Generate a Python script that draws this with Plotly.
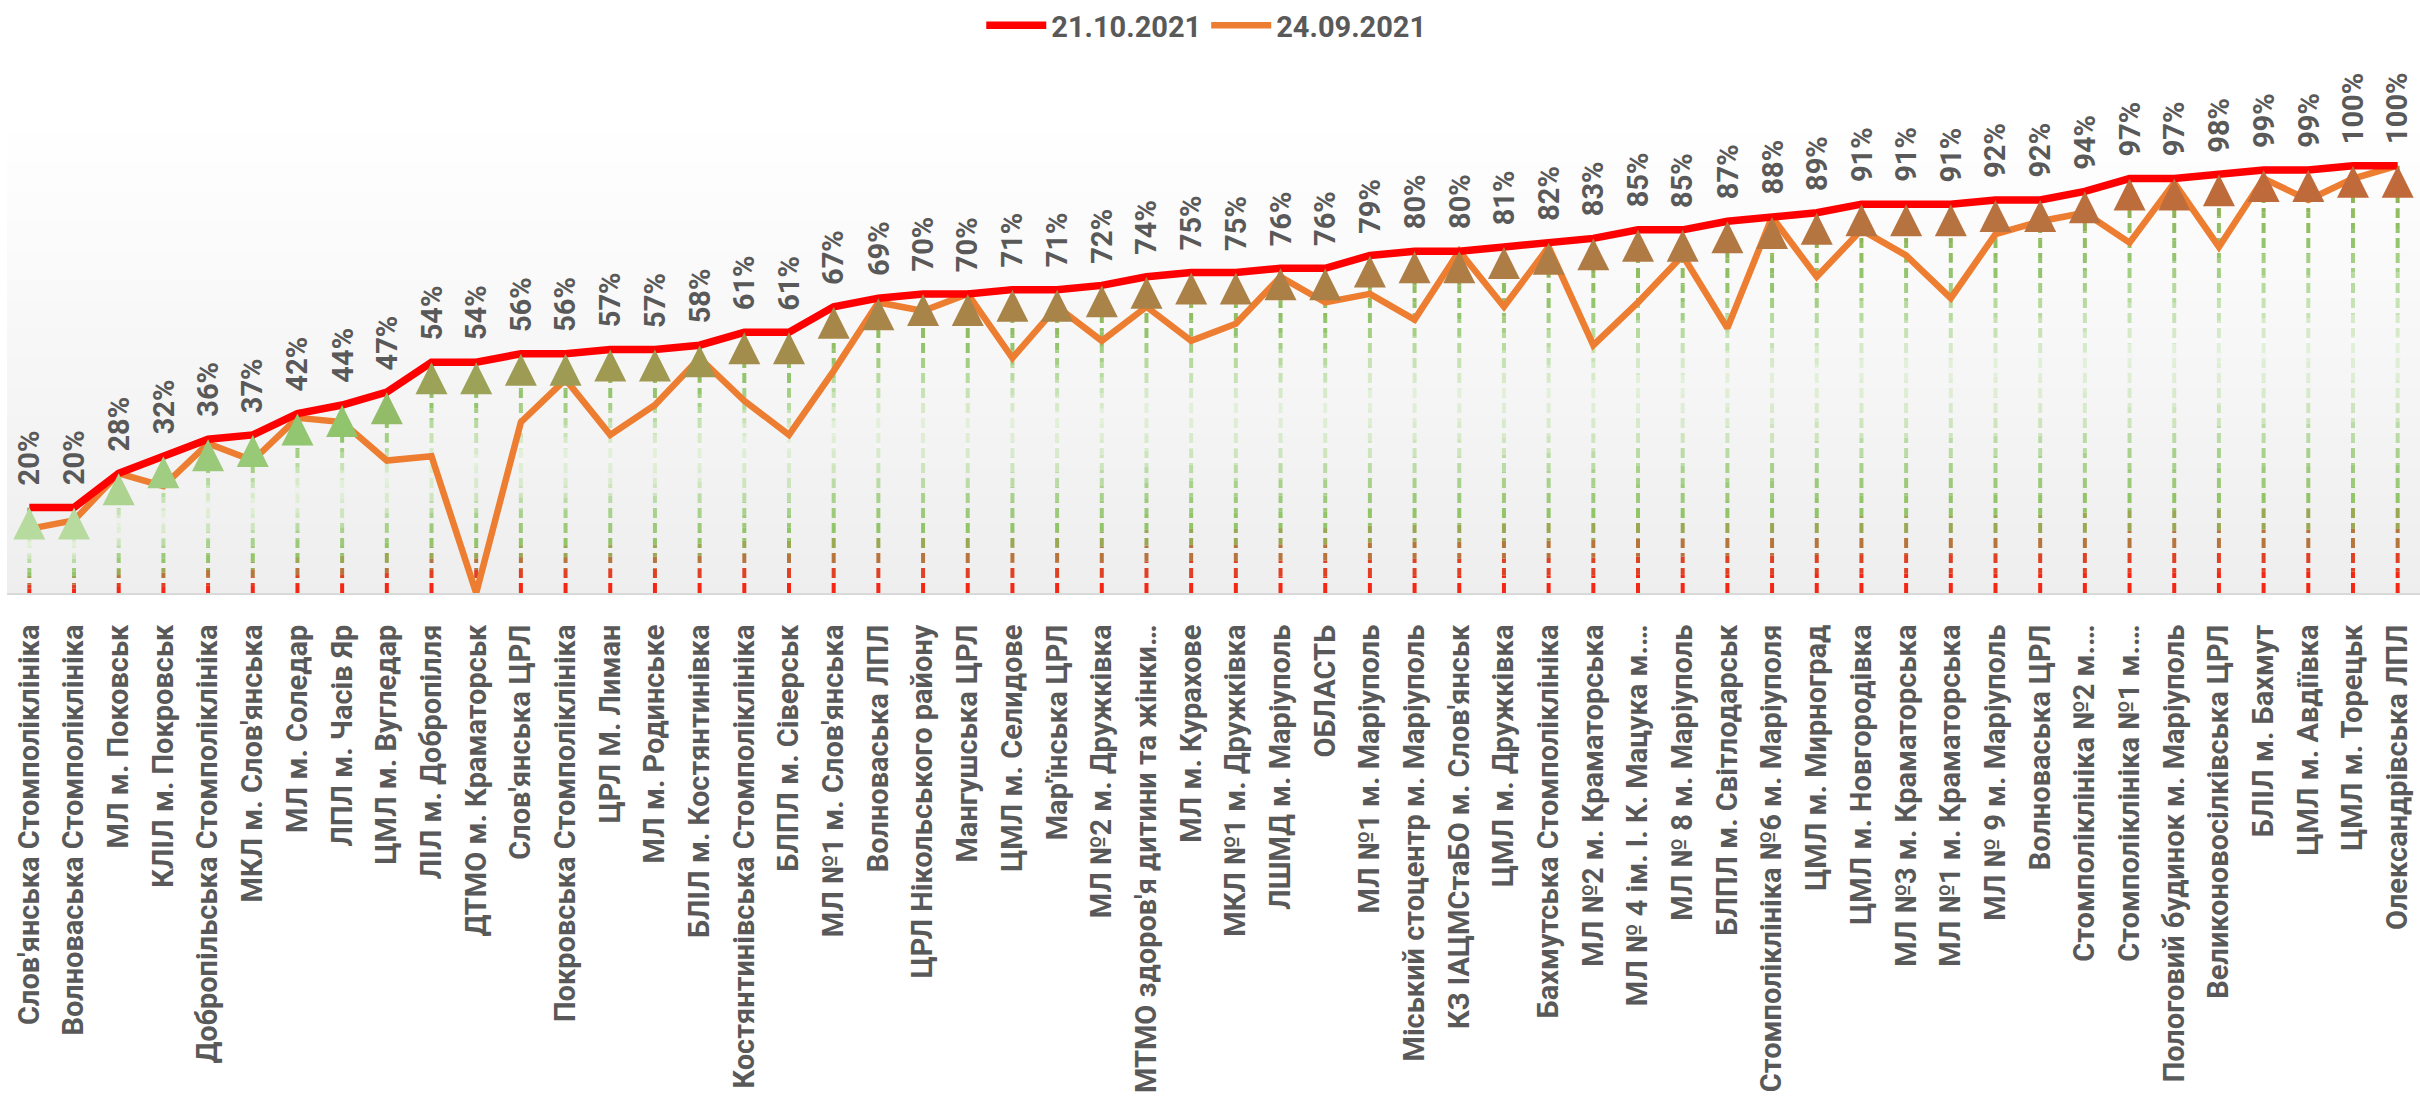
import plotly.graph_objects as go

categories = [
    "Слов'янська Стомполіклініка", "Волноваська Стомполіклініка", "МЛ м. Поковськ",
    "КЛІЛ м. Покровськ", "Добропільська Стомполіклініка", "МКЛ м. Слов'янська",
    "МЛ м. Соледар", "ЛПЛ м. Часів Яр", "ЦМЛ м. Вугледар", "ЛІЛ м. Добропілля",
    "ДТМО м. Краматорськ", "Слов'янська ЦРЛ", "Покровська Стомполіклініка",
    "ЦРЛ М. Лиман", "МЛ м. Родинське", "БЛІЛ м. Костянтинівка",
    "Костянтинівська Стомполіклініка", "БЛПЛ м. Сіверськ", "МЛ №1 м. Слов'янська",
    "Волноваська ЛПЛ", "ЦРЛ Нікольського району", "Мангушська ЦРЛ", "ЦМЛ м. Селидове",
    "Мар'їнська ЦРЛ", "МЛ №2 м. Дружківка", "МТМО здоров'я дитини та жінки…",
    "МЛ м. Курахове", "МКЛ №1 м. Дружківка", "ЛШМД м. Маріуполь", "ОБЛАСТЬ",
    "МЛ №1 м. Маріуполь", "Міський стоцентр м. Маріуполь", "КЗ ІАЦМСтаБО м. Слов'янськ",
    "ЦМЛ м. Дружківка", "Бахмутська Стомполіклініка", "МЛ №2 м. Краматорська",
    "МЛ № 4 ім. І. К. Мацука м.…", "МЛ № 8 м. Маріуполь", "БЛПЛ м. Світлодарськ",
    "Стомполіклініка №6 м. Маріуполя", "ЦМЛ м. Мирноград", "ЦМЛ м. Новгородівка",
    "МЛ №3 м. Краматорська", "МЛ №1 м. Краматорська", "МЛ № 9 м. Маріуполь",
    "Волноваська ЦРЛ", "Стомполіклініка №2 м.…", "Стомполіклініка №1 м.…",
    "Пологовий будинок м. Маріуполь", "Великоновосілківська ЦРЛ", "БЛІЛ м. Бахмут",
    "ЦМЛ м. Авдіївка", "ЦМЛ м. Торецьк", "Олександрівська ЛПЛ",
]

# 21.10.2021 (percent)
values_oct = [20, 20, 28, 32, 36, 37, 42, 44, 47, 54, 54, 56, 56, 57, 57, 58, 61, 61,
              67, 69, 70, 70, 71, 71, 72, 74, 75, 75, 76, 76, 79, 80, 80, 81, 82, 83,
              85, 85, 87, 88, 89, 91, 91, 91, 92, 92, 94, 97, 97, 98, 99, 99, 100, 100]

# 24.09.2021 (percent)
values_sep = [15, 17, 28, 25, 35, 31, 41, 40, 31, 32, 0, 40, 50, 37, 44, 55, 45, 37,
              52, 68, 66, 70, 55, 67, 59, 67, 59, 63, 74, 68, 70, 64, 80, 67, 81, 58,
              68, 79, 62, 88, 74, 85, 79, 69, 84, 87, 89, 82, 96, 81, 97, 92, 97, 100]

series_names = ["21.10.2021", "24.09.2021"]

FONT = "Roboto, 'Noto Sans', 'DejaVu Sans', sans-serif"
TXT = "#595959"
YMAX = 1.10
PLOT_TOP, PLOT_BOTTOM = 123, 593
PPU = (PLOT_BOTTOM - PLOT_TOP) / YMAX  # pixels per 1.0


def hex2rgb(h):
    h = h.lstrip("#")
    return tuple(int(h[i:i + 2], 16) for i in (0, 2, 4))


def interp(stops, t):
    t = max(0.0, min(1.0, t))
    for (t0, c0), (t1, c1) in zip(stops[:-1], stops[1:]):
        if t0 <= t <= t1:
            f = 0 if t1 == t0 else (t - t0) / (t1 - t0)
            a, b = hex2rgb(c0), hex2rgb(c1)
            r = [round(a[k] + (b[k] - a[k]) * f) for k in range(3)]
            return "rgb(%d,%d,%d)" % tuple(r)
    return stops[-1][1]


bg_stops = [(0.0, "#EEEEEE"), (1.0, "#FFFFFF")]
shaft_stops = [(0.00, "#FF1A0A"), (0.07, "#E43C22"), (0.13, "#B27A3E"), (0.20, "#8DC15F"),
               (0.32, "#A6D08A"), (0.45, "#D6E9C9"), (0.58, "#E3F0DB"), (0.70, "#C0DFAB"),
               (0.82, "#93C56F"), (0.92, "#8FB85A"), (1.00, "#A58A45")]
head_stops = [(0.0, "#BFE0AB"), (0.25, "#B5D99C"), (0.33, "#9DCB7D"), (0.45, "#8FC46C"),
              (0.52, "#9AA85A"), (0.62, "#A48A4A"), (0.85, "#B07A44"), (1.0, "#C0693A")]

x = list(range(len(categories)))
yo = [v / 100 for v in values_oct]
ys = [v / 100 for v in values_sep]

fig = go.Figure()

# background gradient of the plot area
NB = 48
shapes = []
for k in range(NB):
    f0, f1 = k / NB, (k + 1) / NB
    shapes.append(dict(type="rect", xref="paper", yref="paper", x0=0, x1=1, y0=f0, y1=f1 + 0.002,
                       fillcolor=interp(bg_stops, (f0 + f1) / 2), line=dict(width=0), layer="below"))

# arrow shafts: solid gradient pieces
NS = 20
for k in range(NS):
    t0, t1 = k / NS, (k + 1) / NS
    xs, yy = [], []
    for i, v in zip(x, yo):
        xs += [i, i, None]
        yy += [v * t0, v * t1, None]
    fig.add_trace(go.Scatter(x=xs, y=yy, mode="lines", showlegend=False, hoverinfo="skip",
                             line=dict(color=interp(shaft_stops, (t0 + t1) / 2), width=4)))

# gaps of the dashes, painted in the background colour
period = 15 / PPU
edges = [0, 8 * period, 16 * period, 24 * period, YMAX]
for b0, b1 in zip(edges[:-1], edges[1:]):
    xs, yy = [], []
    for i, v in zip(x, yo):
        if v > b0:
            xs += [i, i, None]
            yy += [b0, min(v, b1), None]
    fig.add_trace(go.Scatter(x=xs, y=yy, mode="lines", showlegend=False, hoverinfo="skip",
                             line=dict(color=interp(bg_stops, ((b0 + b1) / 2) / YMAX), width=6,
                                       dash="0px,10px,5px,0px")))

fig.add_trace(go.Scatter(x=x, y=ys, mode="lines", name=series_names[1], legendrank=2,
                         line=dict(color="#ED7D31", width=6.5), hoverinfo="skip"))
fig.add_trace(go.Scatter(x=x, y=yo, mode="lines", name=series_names[0], legendrank=1,
                         line=dict(color="#FF0000", width=7.5), hoverinfo="skip"))

# arrow heads
fig.add_trace(go.Scatter(x=x, y=yo, mode="markers", showlegend=False, hoverinfo="skip",
                         marker=dict(symbol="arrow-up", size=32,
                                     color=[interp(head_stops, v) for v in yo],
                                     line=dict(width=0))))

annotations = []
for i, v in zip(x, values_oct):
    annotations.append(dict(x=i, y=v / 100, xref="x", yref="y", text="%d%%" % v,
                            showarrow=False, textangle=-90, yanchor="bottom", xanchor="center",
                            yshift=20, font=dict(family=FONT, size=29, color=TXT, weight="bold")))

fig.update_layout(
    width=2420, height=1111,
    margin=dict(l=7, r=0, t=PLOT_TOP, b=1111 - PLOT_BOTTOM, pad=0),
    paper_bgcolor="white", plot_bgcolor="white",
    shapes=shapes, annotations=annotations,
    showlegend=True,
    legend=dict(orientation="h", x=0.497, xanchor="center", y=1.0, yanchor="top",
                yref="container", font=dict(family=FONT, size=29, color=TXT, weight="bold"),
                itemwidth=60, bgcolor="rgba(0,0,0,0)"),
    xaxis=dict(range=[-0.5, len(categories) - 0.5], tickmode="array", tickvals=x,
               ticktext=categories, tickangle=-90, showgrid=False, zeroline=False,
               showline=True, linecolor="#D9D9D9", linewidth=2, ticks="",
               ticklabelstandoff=18,
               tickfont=dict(family=FONT, size=29, color=TXT, weight="bold")),
    yaxis=dict(range=[0, YMAX], visible=False, showgrid=False, zeroline=False),
    hovermode=False,
)

fig.write_html("out.html", config={"displayModeBar": False},
               post_script="document.body.style.margin='0';document.body.style.overflow='hidden';")
